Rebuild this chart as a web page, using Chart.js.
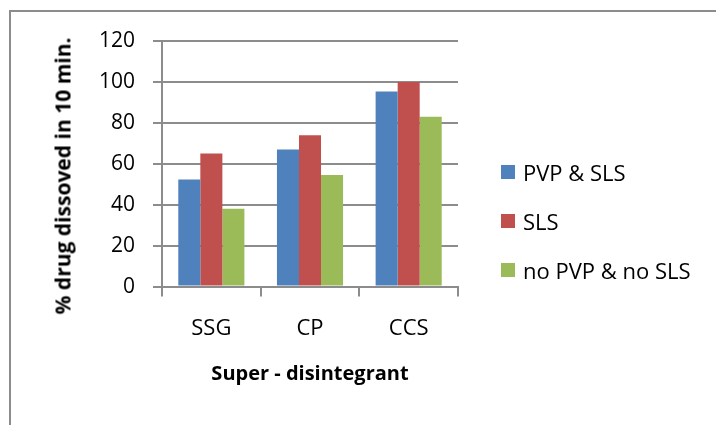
<!DOCTYPE html>
<html>
<head>
<meta charset="utf-8">
<script src="https://cdn.jsdelivr.net/npm/chart.js@4/dist/chart.umd.min.js"></script>
<style>
  html, body { margin: 0; padding: 0; background: #fff; }
  #wrap { position: relative; width: 716px; height: 425px; overflow: hidden; }
  #frame { position: absolute; left: 9px; top: 10px; width: 800px; height: 500px; border: 2px solid #8c8c8c; }
  #c { position: absolute; left: 0; top: 0; }
  #ytitle { position: absolute; left: 63px; top: 176px; transform: translate(-50%, -50%) rotate(-90deg);
            white-space: nowrap; font-family: 'Open Sans', sans-serif; font-weight: bold; font-size: 21px; color: #000; line-height: 1; }
  #legend { position: absolute; left: 501px; top: 147px; font-family: 'Open Sans', sans-serif; font-size: 22px; color: #000; }
  #legend div { height: 49px; display: flex; align-items: center; line-height: 1; white-space: nowrap; }
  #legend span.box { display: inline-block; width: 14px; height: 14px; margin-right: 8px; }
</style>
</head>
<body>
<div id="wrap">
  <div id="frame"></div>
  <canvas id="c" width="716" height="425"></canvas>
  <div id="ytitle"></div>
  <div id="legend"></div>
</div>
<script>
'use strict';
// データ
const CATEGORIES = ['SSG', 'CP', 'CCS'];
const SERIES_NAMES = ['PVP & SLS', 'SLS', 'no PVP & no SLS'];
const PVP_SLS = [52.3, 67, 95.3];
const SLS_ONLY = [65, 74, 100];
const NONE = [38, 54.5, 83];
const Y_TICKS = [0, 20, 40, 60, 80, 100, 120];
const X_TITLE = 'Super - disintegrant';
const Y_TITLE = '% drug dissoved in 10 min.';

const COLORS = ['#4F81BD', '#C0504D', '#9BBB59'];
const GRID = '#8c8c8c';
const FONT = "'Open Sans', sans-serif";

const values = [PVP_SLS, SLS_ONLY, NONE];

const chart = new Chart(document.getElementById('c'), {
    type: 'bar',
    data: {
        labels: CATEGORIES,
        datasets: SERIES_NAMES.map((name, i) => ({
            label: name,
            data: values[i],
            backgroundColor: COLORS[i],
            borderWidth: 0,
            categoryPercentage: 0.67,
            barPercentage: 1.0,
        })),
    },
    options: {
        responsive: false,
        animation: false,
        layout: { padding: { left: 81, top: 41, right: 258, bottom: 38 } },
        plugins: { legend: { display: false }, tooltip: { enabled: false } },
        scales: {
            x: {
                grid: { offset: true, drawOnChartArea: false, drawTicks: true, tickLength: 10, color: GRID, lineWidth: 2 },
                border: { display: true, color: GRID, width: 2 },
                ticks: { color: '#000', font: { family: FONT, size: 22 }, padding: 19 },
                title: {
                    display: true, text: X_TITLE, color: '#000',
                    font: { family: FONT, size: 20, weight: 'bold', lineHeight: 1.3 }, padding: { top: 0, bottom: 0 },
                },
            },
            y: {
                min: Y_TICKS[0],
                max: Y_TICKS[Y_TICKS.length - 1],
                afterBuildTicks: axis => { axis.ticks = Y_TICKS.map(v => ({ value: v })); },
                grid: { color: GRID, lineWidth: 2, tickLength: 9 },
                border: { display: true, color: GRID, width: 2 },
                ticks: { color: '#000', font: { family: FONT, size: 21 }, padding: 18 },
            },
        },
    },
});

// 縦軸タイトル
document.getElementById('ytitle').textContent = Y_TITLE;

// 凡例（右側）
const legend = document.getElementById('legend');
chart.data.datasets.forEach(ds => {
    const row = document.createElement('div');
    const box = document.createElement('span');
    box.className = 'box';
    box.style.background = ds.backgroundColor;
    row.appendChild(box);
    row.appendChild(document.createTextNode(ds.label));
    legend.appendChild(row);
});
</script>
</body>
</html>
